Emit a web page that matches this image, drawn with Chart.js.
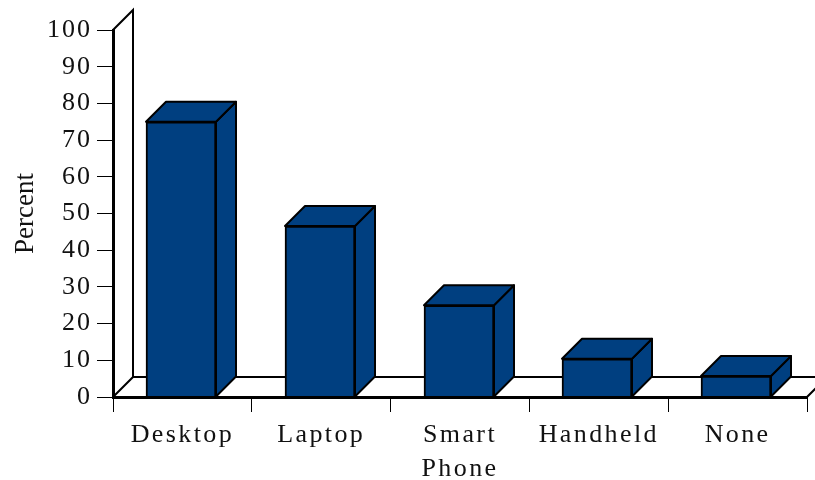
<!DOCTYPE html>
<html>
<head>
<meta charset="utf-8">
<style>html,body{margin:0;padding:0;background:#fff}canvas{display:block}</style>
<script src="https://cdn.jsdelivr.net/npm/chart.js@4"></script>
</head>
<body>
<canvas id="c" width="815" height="480"></canvas>
<script>
const categories = ['Desktop', 'Laptop', ['Smart', 'Phone'], 'Handheld', 'None'];
const percentValues = [75, 46.6, 25, 10.4, 5.7];
const yTicks = [0, 10, 20, 30, 40, 50, 60, 70, 80, 90, 100];
const yTitle = 'Percent';

const DEPTH = 20;
const BAR_SHIFT = 1.5;
const BAR_COLOR = '#003f80';
const FONT = '"Liberation Serif", "Times New Roman", serif';

function withSpacing(scale, method, spacing) {
  const orig = scale[method];
  scale[method] = function () {
    const ctx = this.ctx;
    const prev = ctx.letterSpacing;
    ctx.letterSpacing = spacing;
    orig.apply(this, arguments);
    ctx.letterSpacing = prev;
  };
}

const spacingPlugin = {
  id: 'spacing',
  beforeDraw(chart) {
    chart.ctx.letterSpacing = '2px';
    const { x, y } = chart.scales;
    if (!y._wrapped) {
      withSpacing(y, 'drawTitle', '0px');
      withSpacing(x, 'drawLabels', '2.4px');
      y._wrapped = true;
    }
  }
};

function poly(ctx, pts, fill) {
  ctx.beginPath();
  pts.forEach((p, i) => i ? ctx.lineTo(p[0], p[1]) : ctx.moveTo(p[0], p[1]));
  if (fill) { ctx.closePath(); ctx.fillStyle = fill; ctx.fill(); }
  ctx.stroke();
}

const depthPlugin = {
  id: 'depth',
  afterDatasetsUpdate(chart) {
    chart.getDatasetMeta(0).data.forEach(bar => { bar.x = Math.round(bar.x - BAR_SHIFT); });
  },
  beforeDatasetsDraw(chart) {
    const { ctx, chartArea: a } = chart;
    ctx.save();
    ctx.strokeStyle = '#000';
    ctx.lineWidth = 2;
    ctx.lineJoin = 'miter';
    poly(ctx, [[a.left, a.top], [a.left + DEPTH, a.top - DEPTH], [a.left + DEPTH, a.bottom - DEPTH], [a.left, a.bottom]]);
    poly(ctx, [[a.left + DEPTH, a.bottom - DEPTH], [a.right + DEPTH, a.bottom - DEPTH], [a.right, a.bottom]]);
    ctx.restore();
  },
  afterDatasetsDraw(chart) {
    const ctx = chart.ctx;
    ctx.save();
    ctx.strokeStyle = '#000';
    ctx.lineWidth = 2;
    ctx.lineJoin = 'round';
    chart.getDatasetMeta(0).data.forEach(bar => {
      const l = bar.x - bar.width / 2, r = bar.x + bar.width / 2, t = bar.y, b = bar.base;
      poly(ctx, [[r, b], [r + DEPTH, b - DEPTH], [r + DEPTH, t - DEPTH], [r, t]], BAR_COLOR);
      poly(ctx, [[l, t], [l + DEPTH, t - DEPTH], [r + DEPTH, t - DEPTH], [r, t]], BAR_COLOR);
    });
    ctx.restore();
  }
};

new Chart(document.getElementById('c'), {
  type: 'bar',
  data: {
    labels: categories,
    datasets: [{
      label: yTitle,
      data: percentValues,
      backgroundColor: BAR_COLOR,
      borderColor: '#000',
      borderWidth: 2,
      barThickness: 70
    }]
  },
  options: {
    responsive: false,
    animation: false,
    layout: { padding: { top: 30, right: 8, left: 0, bottom: 0 } },
    plugins: { legend: { display: false }, tooltip: { enabled: false } },
    scales: {
      x: {
        afterFit(s) { s.height = 83; s.paddingLeft = 0; s.paddingRight = 0; },
        grid: { drawOnChartArea: false, drawTicks: true, tickLength: 15, color: '#000', lineWidth: 1 },
        border: { display: true, color: '#000', width: 3, z: 1 },
        ticks: {
          color: '#111', autoSkip: false, maxRotation: 0, minRotation: 0, padding: 6,
          font: { family: FONT, size: 26, lineHeight: 1.3 }
        }
      },
      y: {
        min: 0, max: 100,
        afterBuildTicks(s) { s.ticks = yTicks.map(v => ({ value: v })); },
        afterFit(s) { s.width = 113; s.paddingTop = 0; s.paddingBottom = 0; },
        grid: { drawOnChartArea: false, drawTicks: true, tickLength: 16, color: '#000', lineWidth: 1 },
        border: { display: true, color: '#000', width: 3 },
        ticks: {
          color: '#111', padding: 5,
          font: { family: FONT, size: 26 }
        },
        title: {
          display: true, text: yTitle, color: '#111', padding: { top: 10, bottom: 0 },
          font: { family: FONT, size: 27 }
        }
      }
    }
  },
  plugins: [spacingPlugin, depthPlugin]
});
</script>
</body>
</html>
